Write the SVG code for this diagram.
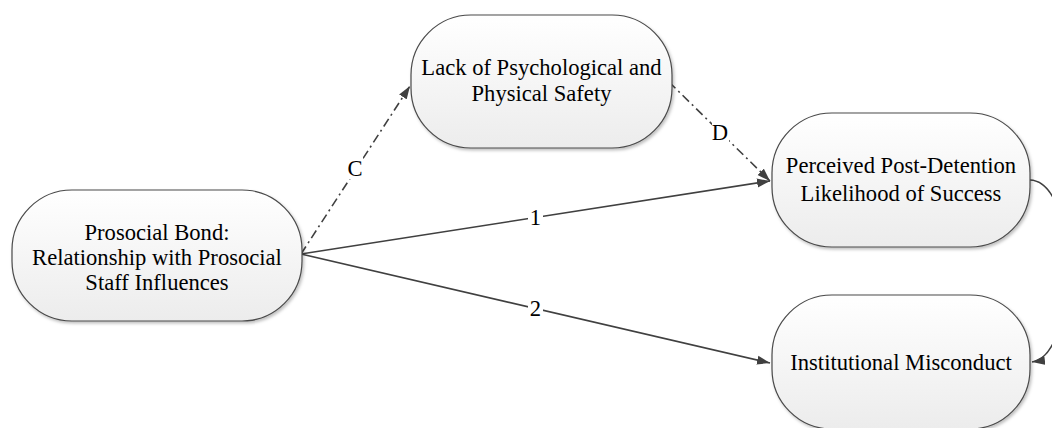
<svg xmlns="http://www.w3.org/2000/svg" width="1052" height="428" viewBox="0 0 1052 428">
  <style>
    .node { fill: url(#nodeFill); stroke: #4a4a4a; stroke-width: 1.2; filter: url(#shadow); }
    text { font-family: 'Liberation Serif', Tinos, 'Times New Roman', 'DejaVu Serif', serif; font-size: 22.6px; fill: #000; text-anchor: middle; }
    .edge { fill: none; stroke: #404040; stroke-width: 1.6; }
    .dashdot { stroke-dasharray: 9 4 2 4; }
    .tagbg { fill: #ffffff; }
  </style>
  <defs>
    <linearGradient id="nodeFill" x1="0" y1="0" x2="0" y2="1">
      <stop offset="0" stop-color="#ffffff"/>
      <stop offset="1" stop-color="#ececec"/>
    </linearGradient>
    <filter id="shadow" x="-10%" y="-10%" width="125%" height="130%">
      <feDropShadow dx="1.5" dy="2" stdDeviation="1.8" flood-color="#000" flood-opacity="0.25"/>
    </filter>
    <marker id="arrow" markerUnits="userSpaceOnUse" markerWidth="14" markerHeight="10" refX="13" refY="5" orient="auto">
      <path d="M0,0.5 L13,5 L0,9.5 Z" fill="#404040"/>
    </marker>
  </defs>

  <rect width="1052" height="428" fill="#ffffff"/>

  <!-- connectors -->
  <g id="connectors">
    <line class="edge dashdot" x1="301" y1="254" x2="410" y2="86" marker-end="url(#arrow)"/>
    <line class="edge dashdot" x1="669" y1="82" x2="770" y2="181" marker-end="url(#arrow)"/>
    <line class="edge" x1="301" y1="254" x2="770" y2="181" marker-end="url(#arrow)"/>
    <line class="edge" x1="301" y1="254" x2="770" y2="363" marker-end="url(#arrow)"/>
    <path class="edge" d="M1030,180 C1080,182 1078,356 1032,362" marker-end="url(#arrow)"/>

    <rect class="tagbg" x="347" y="155" width="16" height="24"/>
    <text x="355" y="176">C</text>
    <rect class="tagbg" x="712" y="119" width="17" height="24"/>
    <text x="720" y="140">D</text>
    <rect class="tagbg" x="528" y="205" width="15" height="24"/>
    <text x="535.5" y="225">1</text>
    <rect class="tagbg" x="528" y="296" width="15" height="24"/>
    <text x="535.5" y="316">2</text>
  </g>

  <!-- nodes -->
  <g id="node-prosocial">
    <rect class="node" x="12" y="190" width="290" height="131" rx="60" ry="60"/>
    <text x="157" y="240">Prosocial Bond:</text>
    <text x="157" y="265">Relationship with Prosocial</text>
    <text x="157" y="290">Staff Influences</text>
  </g>

  <g id="node-safety">
    <rect class="node" x="411" y="15" width="261" height="133" rx="60" ry="60"/>
    <text x="541.5" y="75">Lack of Psychological and</text>
    <text x="541.5" y="101">Physical Safety</text>
  </g>

  <g id="node-success">
    <rect class="node" x="772" y="113" width="258" height="134" rx="60" ry="60"/>
    <text x="901" y="173">Perceived Post-Detention</text>
    <text x="901" y="201">Likelihood of Success</text>
  </g>

  <g id="node-misconduct">
    <rect class="node" x="772" y="295" width="258" height="134" rx="60" ry="60"/>
    <text x="901" y="370">Institutional Misconduct</text>
  </g>
</svg>
